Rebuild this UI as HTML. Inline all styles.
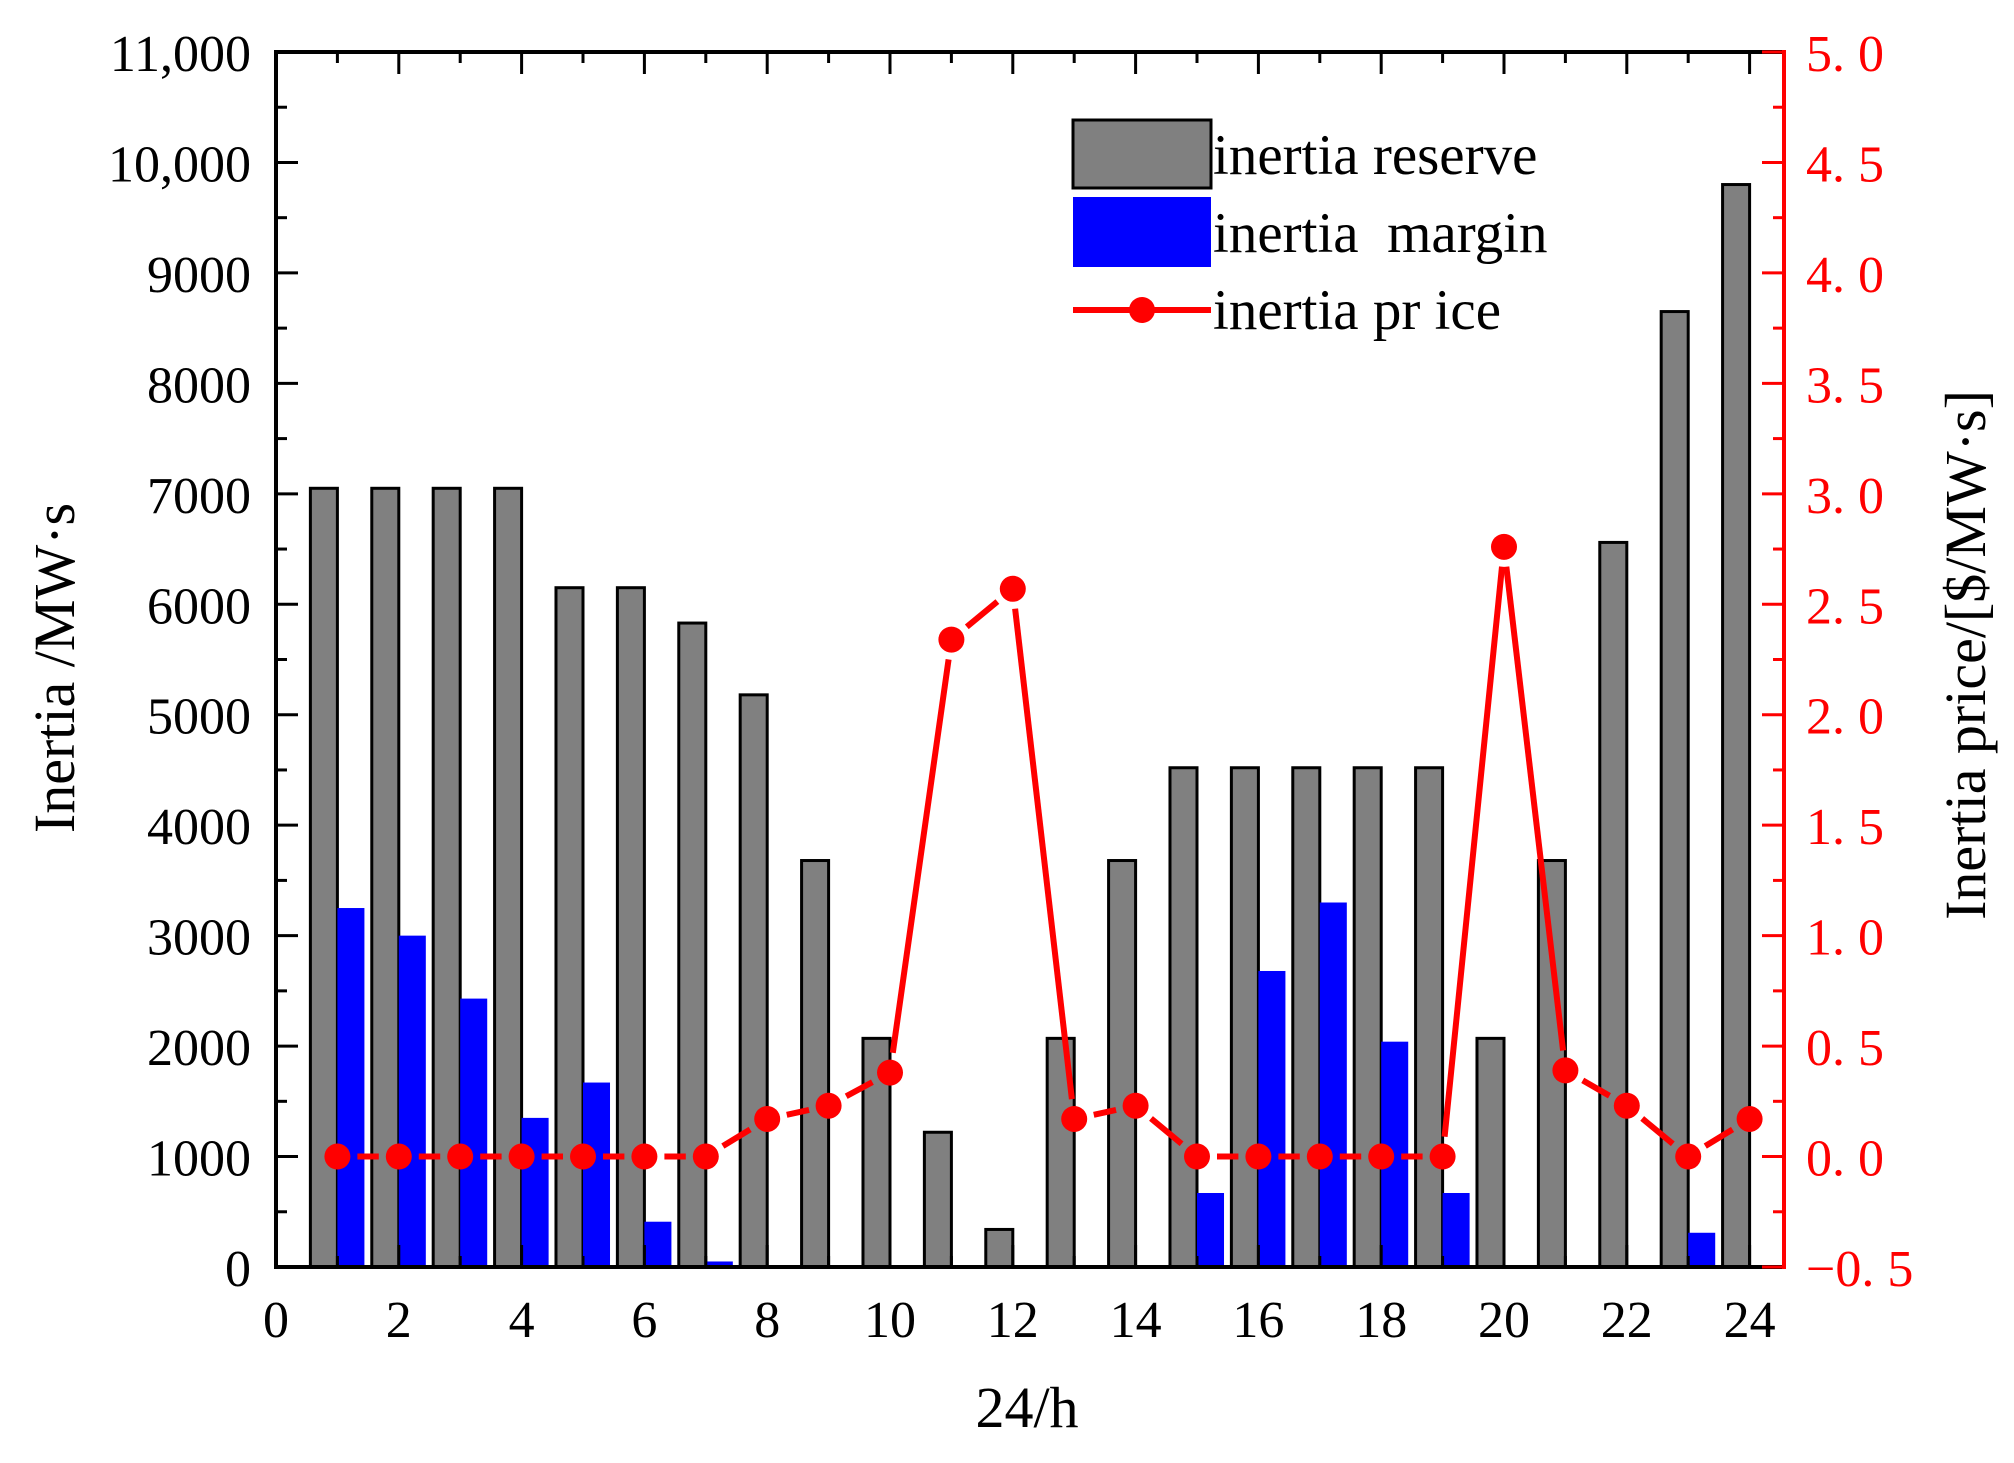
<!DOCTYPE html>
<html><head><meta charset="utf-8"><style>
body{margin:0;background:#fff}
svg text{font-family:"Liberation Serif",serif}
</style></head><body>
<svg id="chart" width="2014" height="1458" xmlns="http://www.w3.org/2000/svg"></svg>
<script>
const hours=[1,2,3,4,5,6,7,8,9,10,11,12,13,14,15,16,17,18,19,20,21,22,23,24];
const reserve=[7050,7050,7050,7050,6150,6150,5830,5180,3680,2070,1220,340,2070,3680,4520,4520,4520,4520,4520,2070,3680,6560,8650,9800];
const margin=[3250,3000,2430,1350,1670,410,50,0,0,0,0,0,0,0,670,2680,3300,2040,670,0,0,0,310,0];
const price=[0,0,0,0,0,0,0,0.17,0.23,0.38,2.34,2.57,0.17,0.23,0,0,0,0,0,2.76,0.39,0.23,0,0.17];
const xTicks=[0,2,4,6,8,10,12,14,16,18,20,22,24];
const yTicks=[0,1000,2000,3000,4000,5000,6000,7000,8000,9000,10000,11000];
const yTickLabels=["0","1000","2000","3000","4000","5000","6000","7000","8000","9000","10,000","11,000"];
const pTicks=[-0.5,0,0.5,1,1.5,2,2.5,3,3.5,4,4.5,5];
const pTickLabels=["\u22120. 5","0. 0","0. 5","1. 0","1. 5","2. 0","2. 5","3. 0","3. 5","4. 0","4. 5","5. 0"];

const L=276,R=1784,T=52,B=1267;
const X=v=>L+v*61.4;
const Y=v=>B-v*(B-T)/11000;
const P=v=>B-(v+0.5)*(B-T)/5.5;
const svg=document.getElementById('chart');
const NS='http://www.w3.org/2000/svg';
function mk(tag,attrs,parent){const e=document.createElementNS(NS,tag);for(const k in attrs)e.setAttribute(k,attrs[k]);(parent||svg).appendChild(e);return e;}

const bw=0.44;
hours.forEach((h,i)=>{
  const g=mk('rect',{x:X(h-bw),y:Y(reserve[i]),width:X(bw)-L,height:B-Y(reserve[i]),fill:'#808080',stroke:'#000','stroke-width':3});
  
  
  if(margin[i]>0){
    const b=mk('rect',{x:X(h),y:Y(margin[i]),width:X(bw)-L,height:B-Y(margin[i]),fill:'#0000ff'});
    
    
  }
});
for(let i=0;i<hours.length-1;i++){
  const x1=X(hours[i]),y1=P(price[i]),x2=X(hours[i+1]),y2=P(price[i+1]);
  const d=Math.hypot(x2-x1,y2-y1),g=20;
  const ux=(x2-x1)/d,uy=(y2-y1)/d;
  const s=mk('line',{x1:x1+ux*g,y1:y1+uy*g,x2:x2-ux*g,y2:y2-uy*g,stroke:'#ff0000','stroke-width':6});
  
  
}
hours.forEach((h,i)=>{
  const c=mk('circle',{cx:X(h),cy:P(price[i]),r:13,fill:'#ff0000'});
  
  
});
mk('line',{x1:L,y1:T,x2:R,y2:T,stroke:'#000','stroke-width':4});
mk('line',{x1:L,y1:B,x2:R,y2:B,stroke:'#000','stroke-width':4});
mk('line',{x1:L,y1:T-2,x2:L,y2:B+2,stroke:'#000','stroke-width':4});
mk('line',{x1:R,y1:T-2,x2:R,y2:B+2,stroke:'#ff0000','stroke-width':4});
for(let v=0;v<=24;v++){
  const len=v%2===0?22:11;
  mk('line',{x1:X(v),y1:B,x2:X(v),y2:B-len,stroke:'#000','stroke-width':3});
  mk('line',{x1:X(v),y1:T,x2:X(v),y2:T+len,stroke:'#000','stroke-width':3});
}
xTicks.forEach(v=>{
  const t=mk('text',{x:X(v),y:1337,'font-size':52,'text-anchor':'middle',fill:'#000',transform:''});
  t.textContent=v;
  
  
});
for(let v=0;v<=11000;v+=500){
  const len=v%1000===0?22:11;
  mk('line',{x1:L,y1:Y(v),x2:L+len,y2:Y(v),stroke:'#000','stroke-width':3});
}
yTicks.forEach((v,i)=>{
  const t=mk('text',{x:251,y:Y(v)+19,'font-size':52,'text-anchor':'end',fill:'#000'});
  t.textContent=yTickLabels[i];
  
  
});
for(let v=-0.5;v<=5.001;v+=0.25){
  const major=Math.abs(Math.round(v*2)-v*2)<1e-6;
  mk('line',{x1:R,y1:P(v),x2:R-(major?22:11),y2:P(v),stroke:'#ff0000','stroke-width':3});
}
pTicks.forEach((v,i)=>{
  const t=mk('text',{x:1806,y:P(v)+19,'font-size':52,fill:'#ff0000'});
  t.textContent=pTickLabels[i];
  
  
});
</script>
<svg style="position:absolute;left:0;top:0" width="2014" height="1458" xmlns="http://www.w3.org/2000/svg">
<text x="1027" y="1427" font-size="58" text-anchor="middle" font-family="Liberation Serif, serif">24/h</text>
<text x="0" y="0" font-size="58" text-anchor="middle" font-family="Liberation Serif, serif" transform="translate(74,668) rotate(-90)">Inertia /MW·s</text>
<text x="0" y="0" font-size="58" text-anchor="middle" font-family="Liberation Serif, serif" transform="translate(1985,655) rotate(-90)">Inertia price/[$/MW·s]</text>
<g>
<rect x="1073" y="120" width="138" height="68" fill="#808080" stroke="#000" stroke-width="3"/>
<text x="1213" y="174" font-size="57" font-family="Liberation Serif, serif">inertia reserve</text>
<rect x="1073" y="197" width="138" height="70" fill="#0000ff"/>
<text x="1213" y="252" font-size="57" font-family="Liberation Serif, serif" xml:space="preserve">inertia  margin</text>
<line x1="1073" y1="310" x2="1211" y2="310" stroke="#ff0000" stroke-width="6"/>
<circle cx="1142" cy="310" r="13" fill="#ff0000"/>
<text x="1213" y="329" font-size="57" font-family="Liberation Serif, serif">inertia pr ice</text>
</g>
</svg>
</body></html>
